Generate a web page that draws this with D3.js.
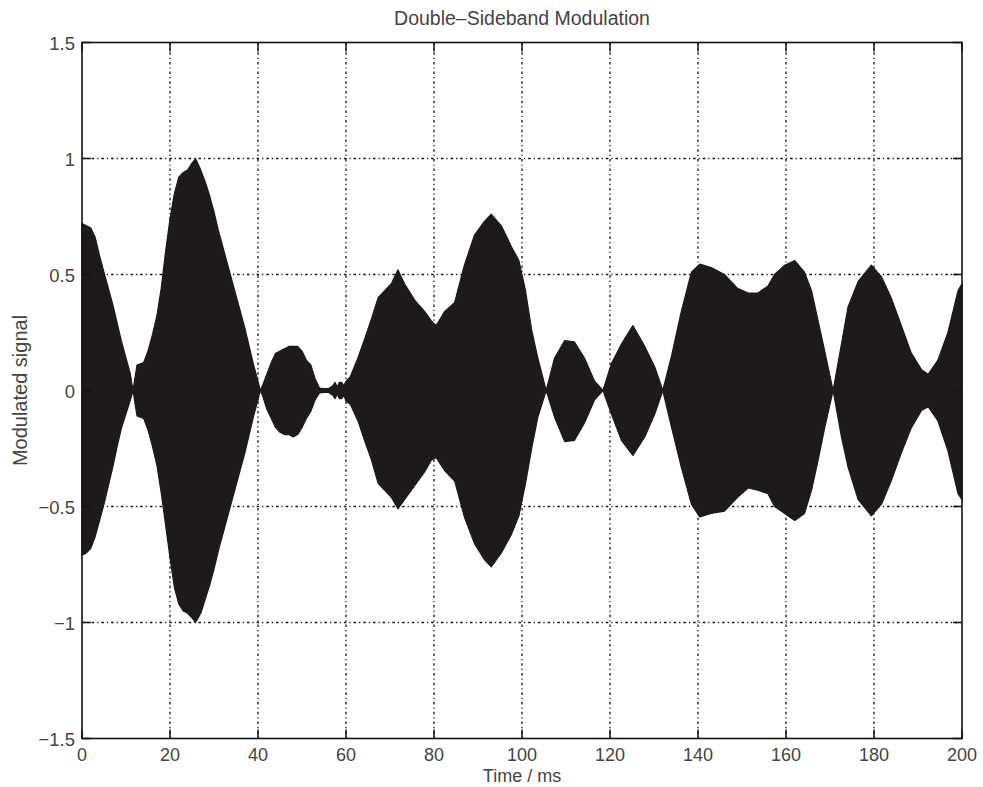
<!DOCTYPE html>
<html><head><meta charset="utf-8">
<script src="https://cdn.jsdelivr.net/npm/d3@7"></script>
<style>body{margin:0;background:#fff}</style>
</head><body>
<svg id="chart" width="983" height="787"></svg>
<script>
// ---- data (envelope of the DSB signal) ----
const timeMs = [
  0,1,2,3,4,5,6,7,8,9,10,11,11.6,
  12.0,12.5,14,15,16,17,18,19,20,21,22,23,24,25,25.8,27,28,29,30,31,32,33,34,35,36,37,38,39,40,40.5,
  41,42,43,44,45,46,47,48,49,50,51,52,53,54,55,56,57,57.5,58,58.5,59,59.5,60,61,
  62.7,64.2,65.8,67.3,68.8,70.3,71.8,73.3,75.6,77.9,79.4,80.5,82.4,84.7,86.9,89.2,91.5,93.0,95.3,97.6,99.3,100.8,102.2,103.6,105.5,
  107.4,109.7,111.9,114.2,116.5,118.4,120.3,122.6,125.2,127.9,130.2,132.0,
  134.0,136.2,138.5,140.4,143.0,146.0,149.0,151.4,153.6,155.9,157.4,159.7,162.0,164.2,165.8,167.3,168.8,170.7,
  172.6,174.1,176.4,179.4,181.7,183.9,186.2,188.5,190.8,192.3,194.5,196.8,199.1,200
];
const upperEnv = [
  0.72,0.71,0.70,0.66,0.58,0.51,0.44,0.37,0.29,0.21,0.14,0.07,0.0,
  0.05,0.11,0.12,0.17,0.24,0.32,0.44,0.60,0.74,0.85,0.92,0.94,0.95,0.98,1.0,0.95,0.90,0.84,0.77,0.69,0.62,0.55,0.48,0.41,0.34,0.27,0.19,0.11,0.04,0.0,
  0.02,0.07,0.12,0.16,0.17,0.18,0.19,0.19,0.19,0.17,0.13,0.11,0.05,0.01,0.008,0.008,0.02,0.035,0.015,0.035,0.035,0.02,0.04,0.06,
  0.14,0.22,0.31,0.40,0.43,0.46,0.52,0.46,0.39,0.34,0.30,0.28,0.34,0.38,0.54,0.67,0.73,0.76,0.71,0.62,0.56,0.43,0.26,0.14,0.0,
  0.14,0.215,0.21,0.14,0.04,0.0,0.115,0.20,0.28,0.19,0.10,0.0,
  0.15,0.34,0.51,0.545,0.53,0.50,0.44,0.42,0.42,0.45,0.50,0.54,0.56,0.51,0.43,0.30,0.17,0.0,
  0.20,0.36,0.47,0.54,0.49,0.40,0.28,0.16,0.09,0.07,0.13,0.25,0.43,0.46
];
const lowerEnv = [
  -0.71,-0.70,-0.68,-0.63,-0.56,-0.49,-0.41,-0.33,-0.24,-0.16,-0.10,-0.04,0.0,
  -0.05,-0.11,-0.12,-0.17,-0.24,-0.32,-0.44,-0.58,-0.72,-0.85,-0.92,-0.95,-0.96,-0.98,-1.0,-0.96,-0.90,-0.84,-0.77,-0.69,-0.62,-0.55,-0.48,-0.41,-0.34,-0.27,-0.19,-0.11,-0.04,0.0,
  -0.02,-0.08,-0.12,-0.16,-0.18,-0.19,-0.19,-0.20,-0.19,-0.16,-0.12,-0.09,-0.04,-0.01,-0.008,-0.008,-0.02,-0.035,-0.015,-0.035,-0.035,-0.02,-0.045,-0.06,
  -0.13,-0.215,-0.30,-0.40,-0.43,-0.46,-0.51,-0.47,-0.41,-0.35,-0.30,-0.29,-0.345,-0.39,-0.545,-0.66,-0.73,-0.76,-0.70,-0.62,-0.54,-0.40,-0.25,-0.115,0.0,
  -0.115,-0.22,-0.215,-0.14,-0.04,0.0,-0.10,-0.215,-0.28,-0.20,-0.10,0.0,
  -0.16,-0.33,-0.49,-0.545,-0.53,-0.52,-0.46,-0.42,-0.43,-0.445,-0.50,-0.53,-0.56,-0.53,-0.43,-0.30,-0.16,0.0,
  -0.20,-0.33,-0.47,-0.54,-0.49,-0.39,-0.27,-0.16,-0.086,-0.07,-0.13,-0.26,-0.445,-0.47
];
const xTicks = [0,20,40,60,80,100,120,140,160,180,200];
const yTicks = [-1.5,-1,-0.5,0,0.5,1,1.5];
const yTickLabels = ["\u22121.5","\u22121","\u22120.5","0","0.5","1","1.5"];
const titleText = "Double\u2013Sideband Modulation";
const xLabelText = "Time / ms";
const yLabelText = "Modulated signal";

// ---- layout ----
const plot = {x0: 82, x1: 962, y0: 42.5, y1: 738.5};
const svg = d3.select("#chart");
const x = d3.scaleLinear().domain([0, 200]).range([plot.x0, plot.x1]);
const y = d3.scaleLinear().domain([-1.5, 1.5]).range([plot.y1, plot.y0]);
const font = "'Liberation Sans', Arial, sans-serif";
const textCol = "#444";

// grid
const grid = svg.append("g").attr("stroke", "#111").attr("stroke-width", 1.3)
  .attr("stroke-dasharray", "2.5,3,1.2,3").attr("fill", "none");
grid.selectAll("line.v").data(xTicks.filter(d => d > 0 && d < 200)).enter().append("line")
  .attr("x1", d => x(d)).attr("x2", d => x(d)).attr("y1", plot.y0).attr("y2", plot.y1);
grid.selectAll("line.h").data(yTicks.filter(d => d > -1.5 && d < 1.5)).enter().append("line")
  .attr("y1", d => y(d)).attr("y2", d => y(d)).attr("x1", plot.x0).attr("x2", plot.x1);

// signal envelope (filled, carrier too dense to resolve)
const pts = timeMs.map((t, i) => ({t, hi: upperEnv[i], lo: lowerEnv[i]}));
const area = d3.area().x(d => x(d.t)).y0(d => y(d.lo)).y1(d => y(d.hi)).curve(d3.curveLinear);
svg.append("path").datum(pts).attr("d", area)
  .attr("fill", "#1e1a1b").attr("stroke", "#1e1a1b").attr("stroke-width", 1.2)
  .attr("stroke-linejoin", "round");

// frame
svg.append("rect").attr("x", plot.x0).attr("y", plot.y0)
  .attr("width", plot.x1 - plot.x0).attr("height", plot.y1 - plot.y0)
  .attr("fill", "none").attr("stroke", "#111").attr("stroke-width", 1.6);

// inward ticks on all sides
const tk = svg.append("g").attr("stroke", "#111").attr("stroke-width", 1.5);
const tl = 9;
xTicks.forEach(d => {
  tk.append("line").attr("x1", x(d)).attr("x2", x(d)).attr("y1", plot.y1).attr("y2", plot.y1 - tl);
  tk.append("line").attr("x1", x(d)).attr("x2", x(d)).attr("y1", plot.y0).attr("y2", plot.y0 + tl);
});
yTicks.forEach(d => {
  tk.append("line").attr("y1", y(d)).attr("y2", y(d)).attr("x1", plot.x0).attr("x2", plot.x0 + tl);
  tk.append("line").attr("y1", y(d)).attr("y2", y(d)).attr("x1", plot.x1).attr("x2", plot.x1 - tl);
});

// tick labels
svg.append("g").selectAll("text").data(xTicks).enter().append("text")
  .attr("x", d => x(d)).attr("y", 761).attr("text-anchor", "middle")
  .attr("font-family", font).attr("font-size", 18).attr("fill", textCol).text(d => d);
svg.append("g").selectAll("text").data(yTicks).enter().append("text")
  .attr("x", 75).attr("y", d => y(d) + 7).attr("text-anchor", "end")
  .attr("font-family", font).attr("font-size", 18.5).attr("fill", textCol)
  .text((d, i) => yTickLabels[i]);

// title and axis labels
svg.append("text").attr("x", (plot.x0 + plot.x1) / 2).attr("y", 25).attr("text-anchor", "middle")
  .attr("font-family", font).attr("font-size", 19.5).attr("fill", textCol).text(titleText);
svg.append("text").attr("x", (plot.x0 + plot.x1) / 2).attr("y", 782).attr("text-anchor", "middle")
  .attr("font-family", font).attr("font-size", 18).attr("fill", textCol).text(xLabelText);
svg.append("text").attr("transform", `translate(27,${(plot.y0 + plot.y1) / 2}) rotate(-90)`)
  .attr("text-anchor", "middle").attr("font-family", font).attr("font-size", 20)
  .attr("fill", textCol).text(yLabelText);
</script>
</body></html>
